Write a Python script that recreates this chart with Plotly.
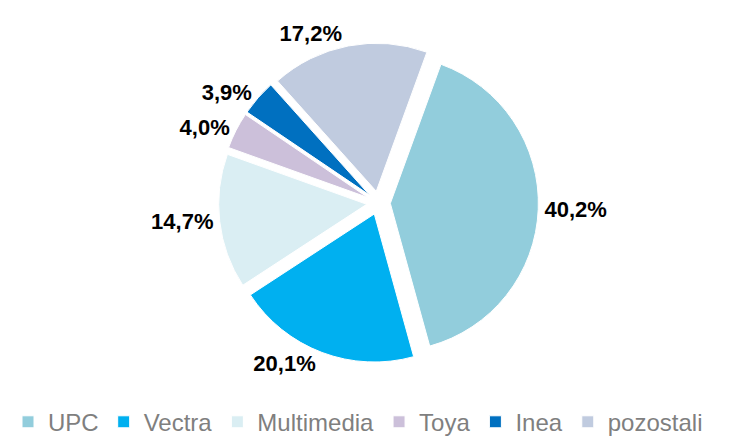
import plotly.graph_objects as go

labels = ["UPC", "Vectra", "Multimedia", "Toya", "Inea", "pozostali"]
values = [40.2, 20.1, 14.7, 4.0, 3.9, 17.2]
colors = ["#92CDDC", "#00B0F0", "#DAEEF3", "#CCC0DA", "#0070C0", "#C0CBDF"]
text_labels = [f"{v:.1f}".replace(".", ",") + "%" for v in values]

fig = go.Figure(go.Pie(
    labels=labels,
    values=values,
    text=text_labels,
    textinfo="text",
    textposition="outside",
    textfont=dict(family="Liberation Sans, Arial, sans-serif", size=22, color="#000000", weight="bold"),
    marker=dict(colors=colors, line=dict(color="#FFFFFF", width=1)),
    sort=False,
    direction="clockwise",
    rotation=20,
    pull=[0.08, 0.08, 0.08, 0.08, 0.08, 0.08],
    automargin=False,
    domain=dict(x=[0.1, 0.9], y=[0.19, 0.92]),
    hoverinfo="label+percent",
))

fig.update_layout(
    width=741,
    height=438,
    margin=dict(l=0, r=0, t=0, b=0, autoexpand=False),
    paper_bgcolor="#FFFFFF",
    plot_bgcolor="#FFFFFF",
    showlegend=True,
    legend=dict(
        orientation="h",
        x=0.0,
        xanchor="left",
        y=0.003,
        yanchor="bottom",
        bgcolor="rgba(0,0,0,0)",
        font=dict(family="Liberation Sans, Arial, sans-serif", size=24, color="#7F7F7F"),
        itemwidth=30,
        traceorder="normal",
    ),
)

fig.write_html("out.html")
